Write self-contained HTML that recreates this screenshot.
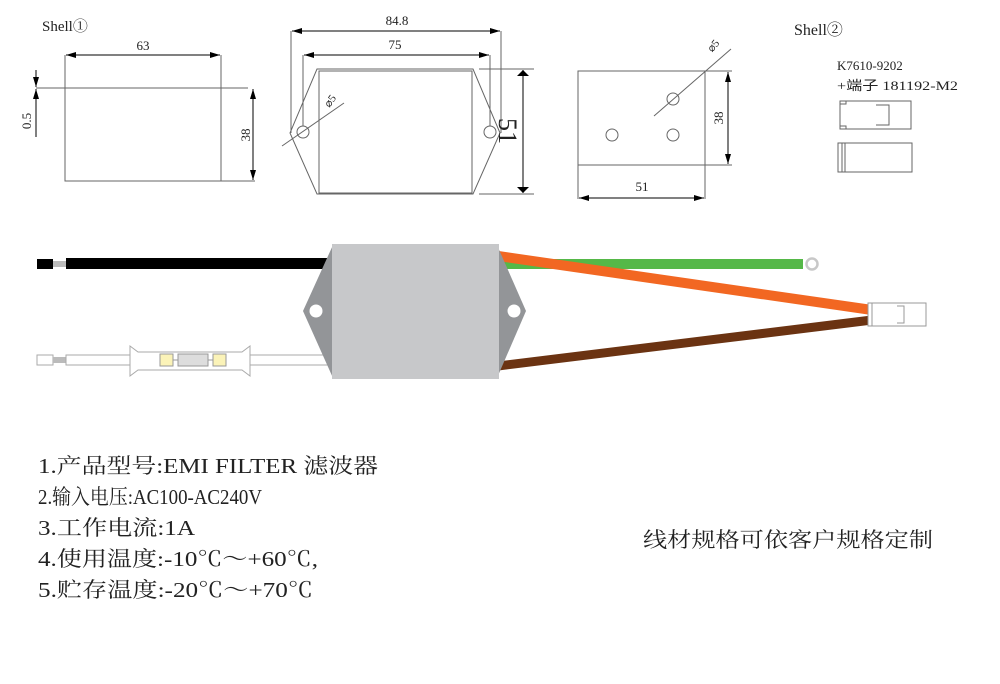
<!DOCTYPE html>
<html><head><meta charset="utf-8"><style>
html,body{margin:0;padding:0;background:#fff;}
svg{display:block;}
text{font-family:"Liberation Serif","Noto Serif CJK SC",serif;}
.c{font-family:"Liberation Serif","WenQuanYi Zen Hei","Noto Sans CJK SC",sans-serif;}
</style></head><body>
<svg width="1000" height="684" viewBox="0 0 1000 684" xmlns="http://www.w3.org/2000/svg">
<defs>
<marker id="a" viewBox="0 0 10 6" refX="10" refY="3" markerWidth="10" markerHeight="6" orient="auto-start-reverse" markerUnits="userSpaceOnUse"><path d="M0,0L10,3L0,6z" fill="#000"/></marker>
<marker id="b" viewBox="0 0 10 20" refX="10" refY="10" markerWidth="6" markerHeight="16" orient="auto-start-reverse" markerUnits="userSpaceOnUse"><path d="M0,0L10,10L0,20z" fill="#000"/></marker>
</defs>
<g stroke="#666" stroke-width="1" fill="none">
<rect x="65" y="88" width="156" height="93"/>
<line x1="36" y1="88" x2="248" y2="88"/>
<line x1="65" y1="55" x2="65" y2="88"/><line x1="221" y1="55" x2="221" y2="88"/>
<line x1="221" y1="181" x2="255" y2="181"/>
<polygon points="317,69 473,69 500,133 473,194 317,194 290,133"/>
<rect x="319" y="71" width="153" height="122"/>
<circle cx="303" cy="132" r="6"/><circle cx="490" cy="132" r="6"/>
<line x1="291" y1="31" x2="291" y2="133"/><line x1="501" y1="31" x2="501" y2="133"/>
<line x1="303" y1="55" x2="303" y2="126"/><line x1="490" y1="55" x2="490" y2="126"/>
<line x1="479" y1="69" x2="534" y2="69"/><line x1="479" y1="194" x2="534" y2="194"/>
<line x1="282" y1="146" x2="344" y2="103"/>
<rect x="578" y="71" width="127" height="94"/>
<line x1="578" y1="165" x2="578" y2="199"/><line x1="705" y1="165" x2="705" y2="199"/>
<line x1="705" y1="71" x2="732" y2="71"/><line x1="705" y1="165" x2="732" y2="165"/>
<circle cx="673" cy="99" r="6"/><circle cx="612" cy="135" r="6"/><circle cx="673" cy="135" r="6"/>
<line x1="654" y1="116" x2="731" y2="49"/>
<rect x="840" y="101" width="71" height="28"/>
<path d="M840,104h6v-3M840,126h6v3M876,105h13v20h-13"/>
<rect x="838" y="143" width="74" height="29"/>
<line x1="842" y1="143" x2="842" y2="172"/><line x1="845" y1="143" x2="845" y2="172"/>
</g>
<g stroke="#000" stroke-width="1" fill="none">
<line x1="66" y1="55" x2="220" y2="55" marker-start="url(#a)" marker-end="url(#a)"/>
<line x1="253" y1="89" x2="253" y2="180" marker-start="url(#a)" marker-end="url(#a)"/>
<line x1="36" y1="70" x2="36" y2="87" marker-end="url(#a)"/>
<line x1="36" y1="137" x2="36" y2="89" marker-end="url(#a)"/>
<line x1="292" y1="31" x2="500" y2="31" marker-start="url(#a)" marker-end="url(#a)"/>
<line x1="304" y1="55" x2="489" y2="55" marker-start="url(#a)" marker-end="url(#a)"/>
<line x1="523" y1="70" x2="523" y2="193" marker-start="url(#b)" marker-end="url(#b)"/>
<line x1="579" y1="198" x2="704" y2="198" marker-start="url(#a)" marker-end="url(#a)"/>
<line x1="728" y1="72" x2="728" y2="164" marker-start="url(#a)" marker-end="url(#a)"/>
</g>
<g font-size="13" fill="#222">
<text x="42" y="31" font-size="15">Shell①</text>
<text x="143" y="50" text-anchor="middle">63</text>
<text transform="translate(250,135) rotate(-90)" text-anchor="middle">38</text>
<text transform="translate(31,121) rotate(-90)" text-anchor="middle">0.5</text>
<text x="397" y="25" text-anchor="middle">84.8</text>
<text x="395" y="49" text-anchor="middle">75</text>
<text transform="translate(499,131) rotate(90)" text-anchor="middle" font-size="26">51</text>
<text transform="translate(333,103) rotate(-55)" text-anchor="middle" font-size="11">⌀5</text>
<text transform="translate(716,48) rotate(-50)" text-anchor="middle" font-size="11">⌀5</text>
<text x="642" y="191" text-anchor="middle">51</text>
<text transform="translate(723,118) rotate(-90)" text-anchor="middle">38</text>
<text x="794" y="35" font-size="16">Shell②</text>
<text x="837" y="70">K7610-9202</text>
<text x="837" y="90" class="c" font-size="13" textLength="121" lengthAdjust="spacingAndGlyphs">+端子 181192-M2</text>
</g>
<rect x="37" y="259" width="16" height="10" fill="#000"/>
<rect x="53" y="261" width="13" height="6" fill="#bbb"/>
<rect x="66" y="258" width="264" height="11" fill="#000"/>
<rect x="37" y="355" width="16" height="10" fill="#fff" stroke="#aaa"/>
<rect x="53" y="357" width="13" height="6" fill="#bbb"/>
<rect x="66" y="355" width="264" height="10" fill="#fff" stroke="#aaa"/>
<polygon points="130,346 138,352 242,352 250,346 250,376 242,370 138,370 130,376" fill="#fff" stroke="#aaa"/>
<rect x="160" y="354" width="13" height="12" fill="#fbf3b8" stroke="#999"/>
<rect x="213" y="354" width="13" height="12" fill="#fbf3b8" stroke="#999"/>
<rect x="178" y="354" width="30" height="12" fill="#ddd" stroke="#999"/>
<line x1="173" y1="360" x2="178" y2="360" stroke="#999"/><line x1="208" y1="360" x2="213" y2="360" stroke="#999"/>
<rect x="500" y="259" width="303" height="10" fill="#55b848"/>
<circle cx="812" cy="264" r="5.5" fill="none" stroke="#c8c8c8" stroke-width="2.5"/>
<line x1="498" y1="256" x2="872" y2="310" stroke="#f26722" stroke-width="10"/>
<line x1="498" y1="366" x2="872" y2="320" stroke="#6b3312" stroke-width="9"/>
<rect x="868" y="303" width="58" height="23" fill="#fff" stroke="#999"/>
<path d="M872,303v23M897,306h7v17h-7" fill="none" stroke="#999"/>
<polygon points="333,245 303,311 333,378" fill="#939598"/>
<polygon points="497,245 526,311 497,378" fill="#939598"/>
<rect x="332" y="244" width="167" height="135" fill="#c7c8ca"/>
<circle cx="316" cy="311" r="6.5" fill="#fff"/><circle cx="514" cy="311" r="6.5" fill="#fff"/>
<g class="c" font-size="21" fill="#222">
<text x="38" y="473" textLength="340" lengthAdjust="spacingAndGlyphs">1.产品型号:EMI FILTER 滤波器</text>
<text x="38" y="504" textLength="224" lengthAdjust="spacingAndGlyphs">2.输入电压:AC100-AC240V</text>
<text x="38" y="535" textLength="157" lengthAdjust="spacingAndGlyphs">3.工作电流:1A</text>
<text x="38" y="566" textLength="280" lengthAdjust="spacingAndGlyphs">4.使用温度:-10℃～+60℃,</text>
<text x="38" y="597" textLength="275" lengthAdjust="spacingAndGlyphs">5.贮存温度:-20℃～+70℃</text>
<text x="643" y="547" textLength="290" lengthAdjust="spacingAndGlyphs">线材规格可依客户规格定制</text>
</g>
</svg>
</body></html>
